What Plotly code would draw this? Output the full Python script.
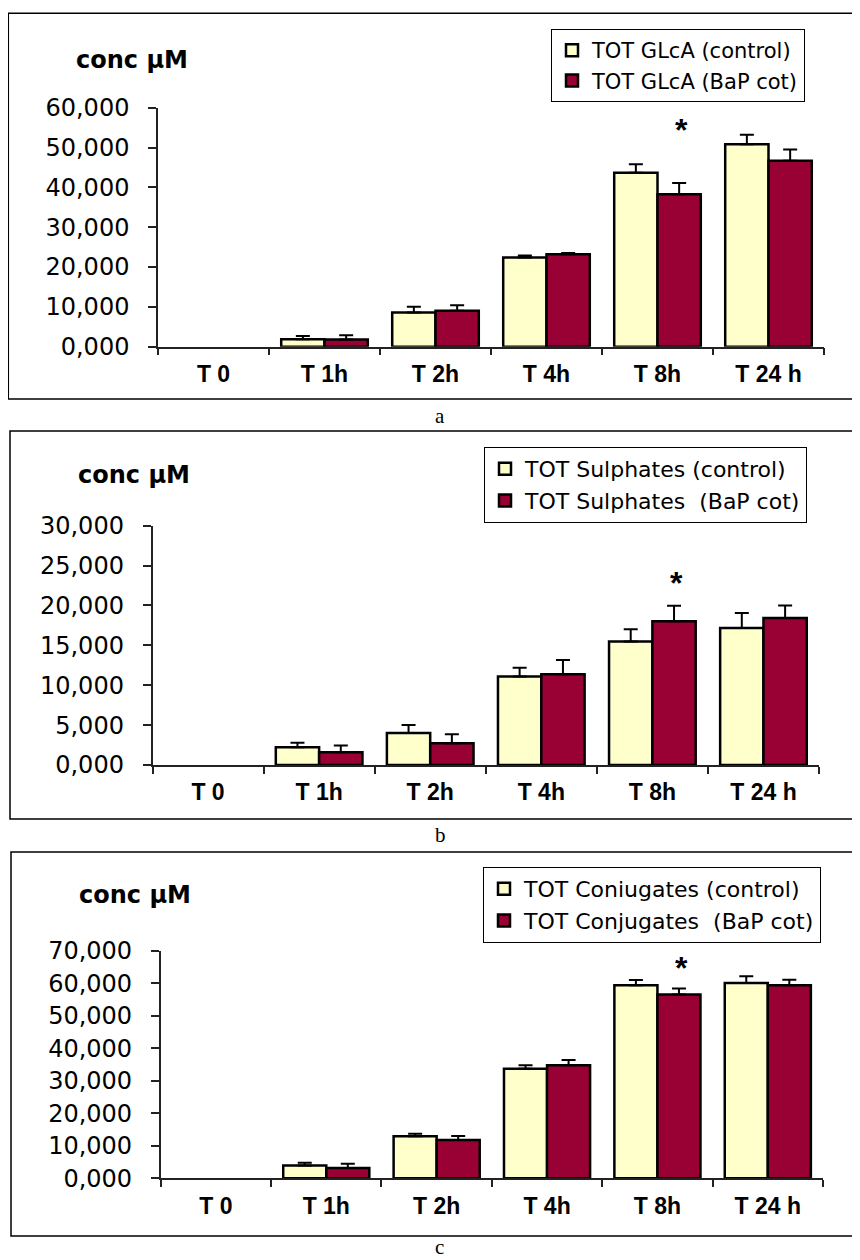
import plotly.graph_objects as go

categories = ["T 0", "T 1h", "T 2h", "T 4h", "T 8h", "T 24 h"]

# Panel a: total glucuronides (conc µM); nothing is drawn at T 0
a_control = [None, 1.9, 8.6, 22.4, 43.7, 50.8]
a_control_err = [None, 0.8, 1.4, 0.5, 2.1, 2.4]
a_bap = [None, 1.8, 9.0, 23.2, 38.3, 46.7]
a_bap_err = [None, 1.1, 1.4, 0.3, 2.8, 2.8]
a_names = ["TOT GLcA (control)", "TOT GLcA (BaP cot)"]
a_star_y = 55.2

# Panel b: total sulphates
b_control = [None, 2.24, 4.0, 11.08, 15.48, 17.19]
b_control_err = [None, 0.56, 1.0, 1.1, 1.55, 1.85]
b_bap = [None, 1.6, 2.74, 11.37, 18.03, 18.44]
b_bap_err = [None, 0.85, 1.13, 1.8, 1.95, 1.55]
b_names = ["TOT Sulphates (control)", "TOT Sulphates  (BaP cot)"]
b_star_y = 23.2

# Panel c: total conjugates
c_control = [None, 3.9, 12.9, 33.7, 59.4, 60.1]
c_control_err = [None, 0.9, 0.8, 1.1, 1.6, 2.05]
c_bap = [None, 3.2, 11.8, 34.8, 56.5, 59.4]
c_bap_err = [None, 1.3, 1.2, 1.6, 1.85, 1.65]
c_names = ["TOT Coniugates (control)", "TOT Conjugates  (BaP cot)"]
c_star_y = 65.6

y_ranges = [[0, 60], [0, 30], [0, 70]]
y_dticks = [10, 5, 10]

W, H = 860, 1260
OFF = 8  # page body margin in the browser
CONTROL_COLOR = "#FFFFCC"
BAP_COLOR = "#990033"
REG_FONT = "DejaVu Sans, Liberation Sans, Arial, sans-serif"
BOLD_FONT = "Liberation Sans, Arial, sans-serif"


def px(v):
    return (v - OFF) / W


def py(v):
    return 1 - (v - OFF) / H


panels = [
    dict(ctrl=a_control, ctrl_err=a_control_err, bap=a_bap, bap_err=a_bap_err,
         names=a_names, star=a_star_y, label="a",
         xdom=(158, 824), ydom=(346.7, 107.7), frame=(8.3, 13.3, 859, 399),
         legend=(551, 29), legend_font=21, entry=250, conc=(74, 60), sub=(440, 416)),
    dict(ctrl=b_control, ctrl_err=b_control_err, bap=b_bap, bap_err=b_bap_err,
         names=b_names, star=b_star_y, label="b",
         xdom=(152.5, 819), ydom=(765, 525.7), frame=(10, 431, 859, 819),
         legend=(484, 447), legend_font=22, entry=316, conc=(76, 475), sub=(441, 835)),
    dict(ctrl=c_control, ctrl_err=c_control_err, bap=c_bap, bap_err=c_bap_err,
         names=c_names, star=c_star_y, label="c",
         xdom=(160.7, 823), ydom=(1178.3, 950.7), frame=(11, 852, 859, 1236),
         legend=(483, 867), legend_font=22, entry=316, conc=(77, 895), sub=(439, 1247)),
]

fig = go.Figure()
layout = dict(
    width=W, height=H,
    margin=dict(l=0, r=0, t=0, b=0, pad=0, autoexpand=False),
    paper_bgcolor="white", plot_bgcolor="white",
    barmode="group", bargap=0.22, bargroupgap=0,
    separators=",.",
    showlegend=True,
)
shapes = []
annotations = []

for i, p in enumerate(panels):
    n = "" if i == 0 else str(i + 1)
    xa, ya = "x" + n, "y" + n
    lg = "legend" + n
    for vals, errs, color, name in [
        (p["ctrl"], p["ctrl_err"], CONTROL_COLOR, p["names"][0]),
        (p["bap"], p["bap_err"], BAP_COLOR, p["names"][1]),
    ]:
        fig.add_trace(go.Bar(
            x=categories, y=vals, name=name,
            xaxis=xa, yaxis=ya, legend=lg,
            marker=dict(color=color, line=dict(color="black", width=2.5)),
            error_y=dict(type="data", array=errs, symmetric=False,
                         arrayminus=[0 if e is not None else None for e in errs],
                         color="black", thickness=2, width=7),
        ))
    layout["xaxis" + n] = dict(
        domain=[px(p["xdom"][0]), px(p["xdom"][1])],
        anchor=ya, type="category", automargin=False,
        categoryorder="array", categoryarray=categories,
        showline=True, linecolor="#222", linewidth=1.5,
        ticks="outside", tickson="boundaries", ticklen=7, tickcolor="#222", tickwidth=1.5,
        tickfont=dict(family=BOLD_FONT, size=23, color="black", weight="bold"),
        ticklabelstandoff=6,
        showgrid=False, zeroline=False, fixedrange=True,
    )
    layout["yaxis" + n] = dict(
        domain=[py(p["ydom"][0]), py(p["ydom"][1])],
        anchor=xa, range=y_ranges[i], dtick=y_dticks[i], tick0=0,
        tickformat=".3f", automargin=False,
        showline=True, linecolor="#222", linewidth=1.5,
        ticks="outside", ticklen=8, tickcolor="#222", tickwidth=1.5,
        tickfont=dict(family=REG_FONT, size=24, color="black"),
        ticklabelstandoff=14,
        showgrid=False, zeroline=False, fixedrange=True,
    )
    layout[lg] = dict(
        x=px(p["legend"][0]), y=py(p["legend"][1]),
        xanchor="left", yanchor="top",
        bgcolor="white", bordercolor="black", borderwidth=1,
        font=dict(family=REG_FONT, size=p["legend_font"], color="black"),
        traceorder="normal", entrywidth=p["entry"], entrywidthmode="pixels",
    )
    fx0, fy0, fx1, fy1 = p["frame"]
    shapes.append(dict(type="rect", xref="paper", yref="paper",
                       x0=px(fx0), x1=px(fx1), y0=py(fy1), y1=py(fy0),
                       line=dict(color="black", width=1.5), layer="above"))
    annotations.append(dict(
        text="conc µM", xref="paper", yref="paper",
        x=px(p["conc"][0]), y=py(p["conc"][1]),
        xanchor="left", yanchor="middle", showarrow=False,
        font=dict(family=REG_FONT, size=24, color="black", weight="bold"),
    ))
    annotations.append(dict(
        text="*", xref=xa, yref=ya, x="T 8h", y=p["star"],
        xshift=24, yshift=-3, xanchor="center", yanchor="middle", showarrow=False,
        font=dict(family=BOLD_FONT, size=32, color="black", weight="bold"),
    ))
    annotations.append(dict(
        text=p["label"], xref="paper", yref="paper",
        x=px(p["sub"][0]), y=py(p["sub"][1]),
        xanchor="center", yanchor="middle", showarrow=False,
        font=dict(family="Liberation Serif, Times New Roman, serif", size=21, color="black"),
    ))

layout["shapes"] = shapes
layout["annotations"] = annotations
fig.update_layout(**layout)
fig.write_html("out.html")
